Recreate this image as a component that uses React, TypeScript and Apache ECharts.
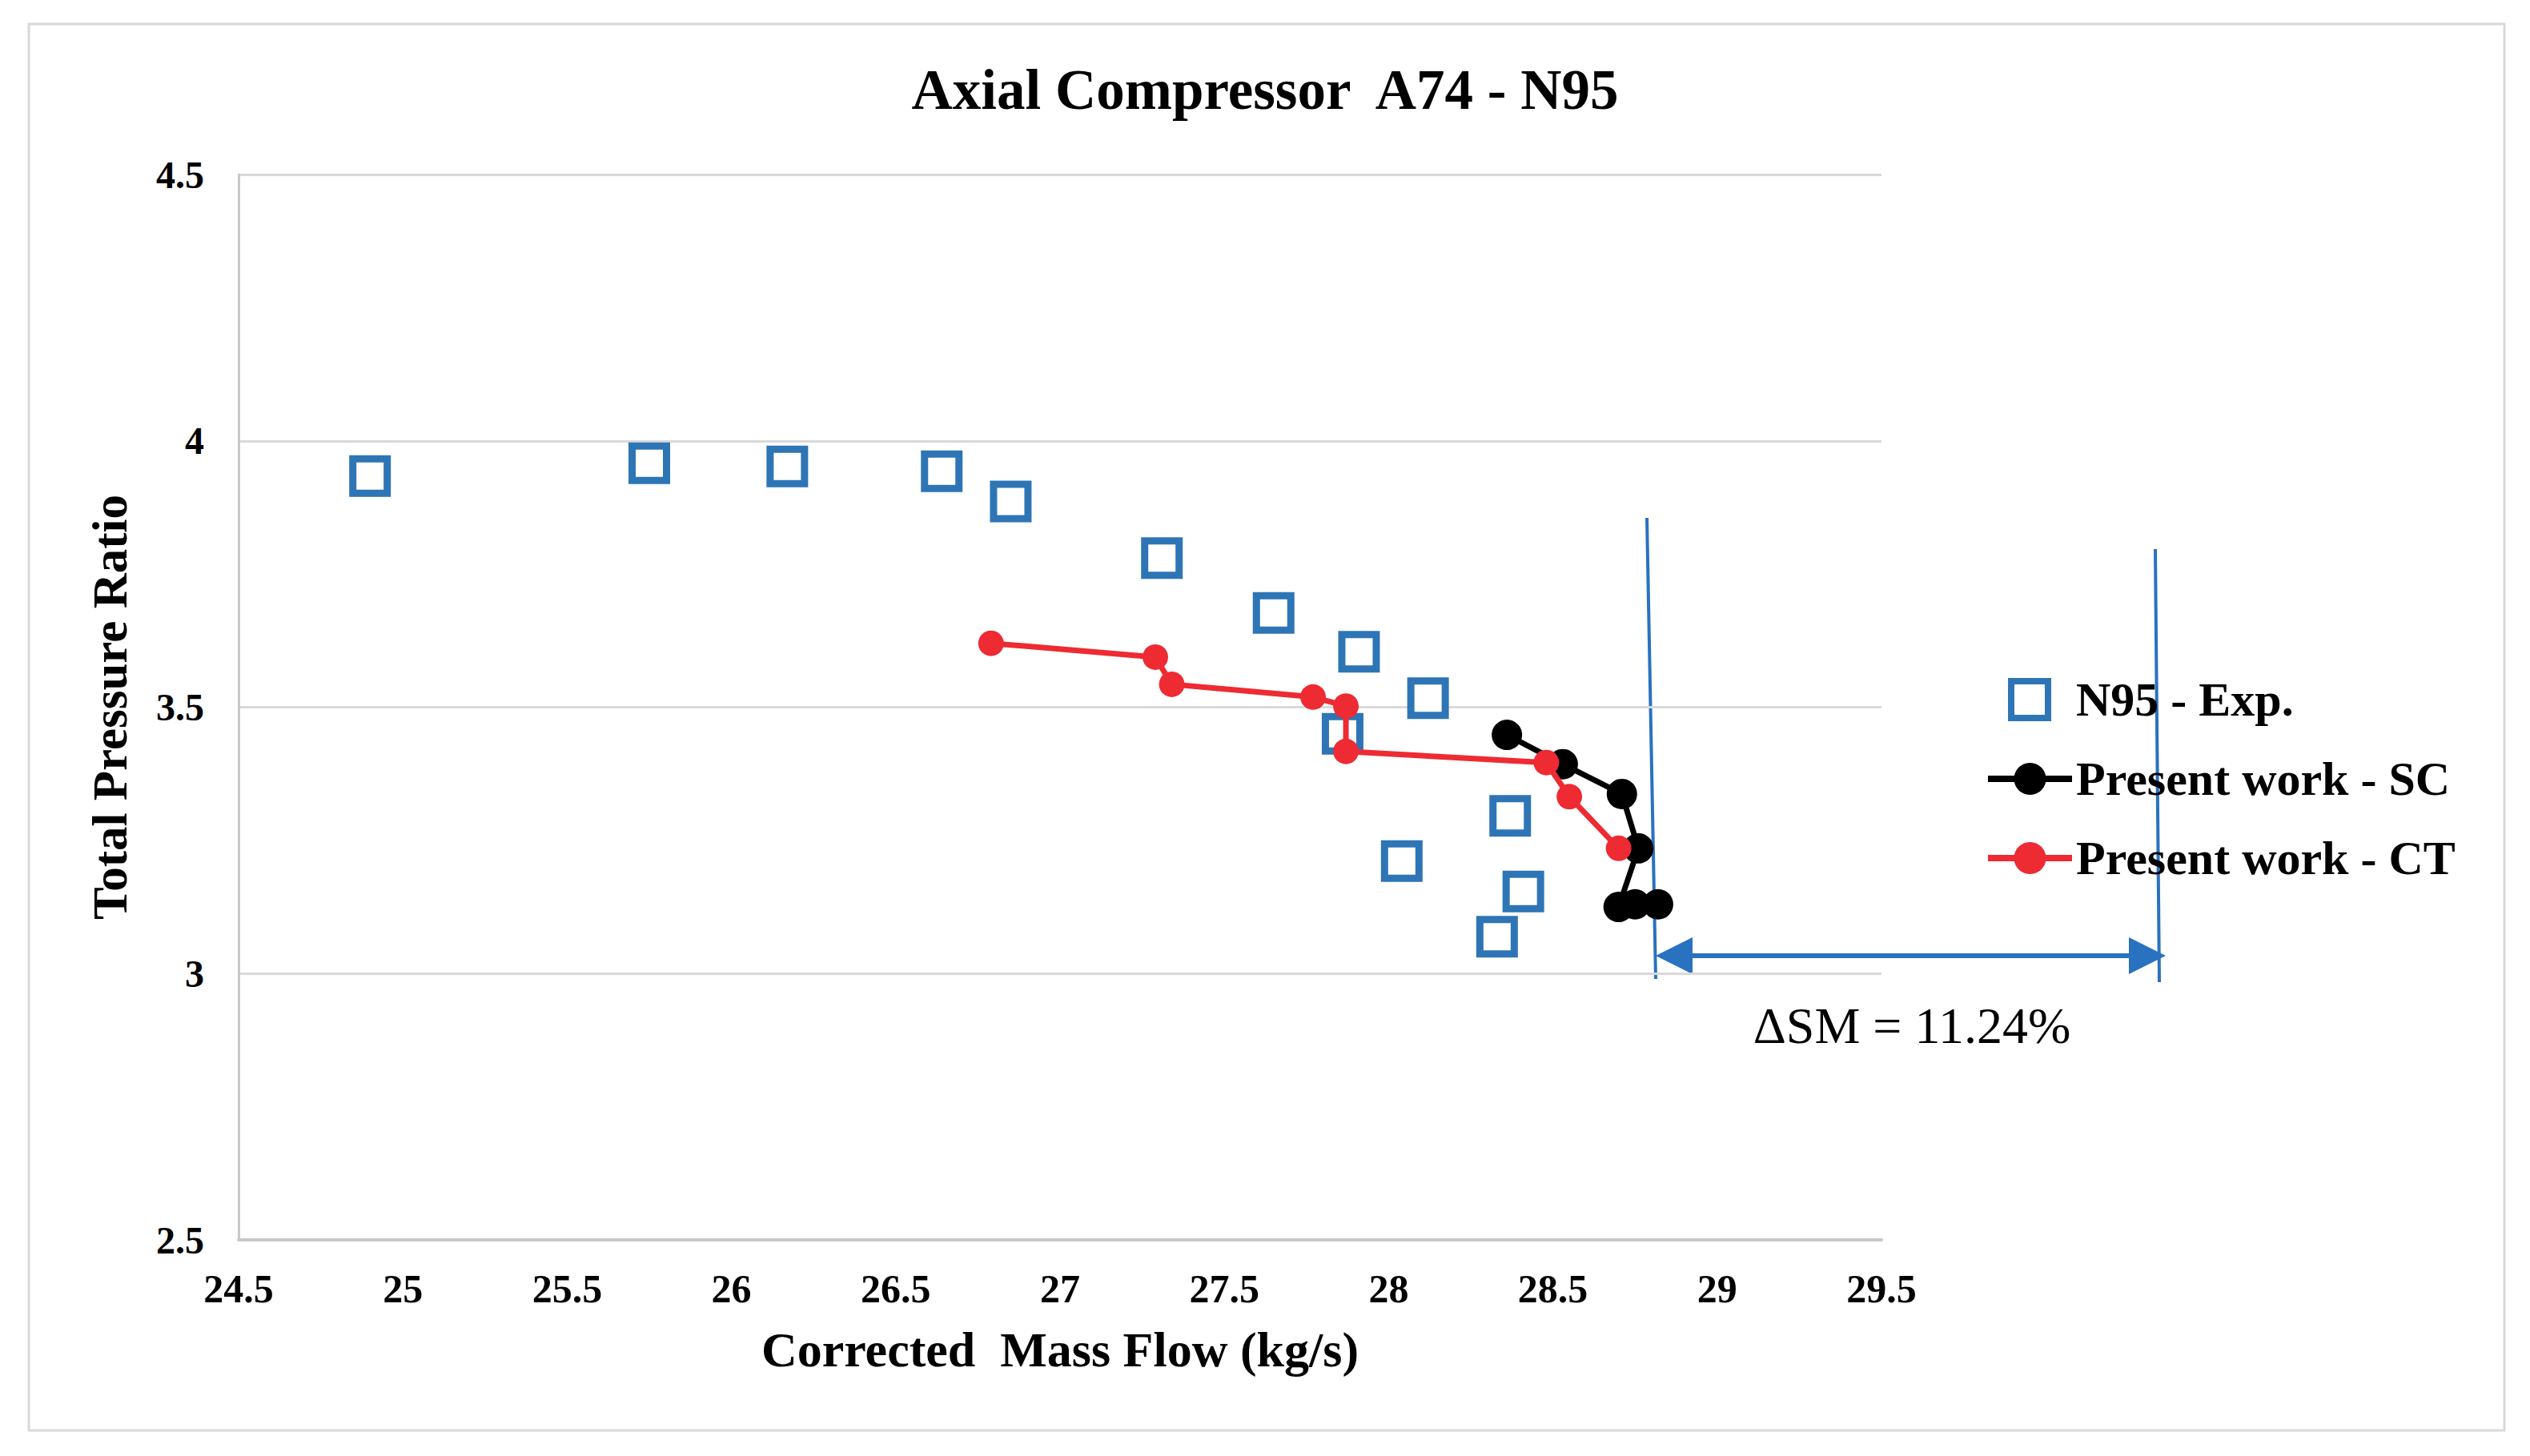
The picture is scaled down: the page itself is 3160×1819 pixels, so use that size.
import React, { useEffect, useRef } from 'react';
import * as echarts from 'echarts';

// N95 experimental points
const expFlow = [24.9, 25.75, 26.17, 26.64, 26.85, 27.31, 27.65, 27.91, 28.12, 27.86, 28.37, 28.04, 28.41, 28.33];
const expPR = [3.934, 3.958, 3.952, 3.943, 3.886, 3.78, 3.677, 3.604, 3.517, 3.45, 3.296, 3.211, 3.154, 3.069];

// Present work - SC
const scFlow = [28.36, 28.53, 28.71, 28.76, 28.7, 28.75, 28.82];
const scPR = [3.448, 3.393, 3.337, 3.235, 3.125, 3.13, 3.13];

// Present work - CT
const ctFlow = [26.79, 27.29, 27.34, 27.77, 27.87, 27.87, 28.48, 28.55, 28.7];
const ctPR = [3.62, 3.594, 3.543, 3.519, 3.502, 3.417, 3.396, 3.332, 3.235];

const seriesNames = ['N95 - Exp.', 'Present work - SC', 'Present work - CT'];
const smLabel = 'ΔSM = 11.24%';

const FONT = '"Liberation Serif", "Times New Roman", serif';
const BLUE = '#2E75B6';
const ARROW = '#2872C0';
const RED = '#EE2A33';

const pairs = (xs: number[], ys: number[]) => xs.map((x, i) => [x, ys[i]]);

const App: React.FC = () => {
  const chartRef = useRef<HTMLDivElement>(null);

  useEffect(() => {
    document.body.style.margin = '0';
    if (!chartRef.current) return;
    const chart = echarts.init(chartRef.current, undefined, { renderer: 'svg' });

    const options: echarts.EChartsOption = {
      animation: false,
      backgroundColor: '#fff',
      textStyle: { fontFamily: FONT },
      title: {
        text: 'Axial Compressor  A74 - N95',
        left: 'center',
        top: 71,
        textStyle: { fontFamily: FONT, fontWeight: 'bold', fontSize: 71, color: '#000' }
      },
      grid: { left: 298, right: 810, top: 218, bottom: 270 },
      xAxis: {
        type: 'value',
        min: 24.5,
        max: 29.5,
        interval: 0.5,
        name: 'Corrected  Mass Flow (kg/s)',
        nameLocation: 'middle',
        nameGap: 106,
        nameTextStyle: { fontFamily: FONT, fontWeight: 'bold', fontSize: 62, color: '#000' },
        axisLine: { show: true, lineStyle: { color: '#C8C8C8', width: 4 } },
        axisTick: { show: false },
        splitLine: { show: false },
        axisLabel: { fontFamily: FONT, fontWeight: 'bold', fontSize: 50, color: '#000', margin: 36 }
      },
      yAxis: {
        type: 'value',
        min: 2.5,
        max: 4.5,
        interval: 0.5,
        name: 'Total Pressure Ratio',
        nameLocation: 'middle',
        nameGap: 130,
        nameTextStyle: { fontFamily: FONT, fontWeight: 'bold', fontSize: 61, color: '#000' },
        axisLine: { show: true, lineStyle: { color: '#C8C8C8', width: 3 } },
        axisTick: { show: false },
        splitLine: { show: true, lineStyle: { color: '#D9D9D9', width: 3 } },
        axisLabel: { fontFamily: FONT, fontWeight: 'bold', fontSize: 48, color: '#000', margin: 43 }
      },
      legend: [
        {
          data: [
            {
              name: seriesNames[0],
              itemStyle: { color: '#fff', borderColor: BLUE, borderWidth: 8 }
            }
          ],
          left: 2503,
          top: 839,
          itemWidth: 46,
          itemHeight: 46,
          itemStyle: { color: '#fff', borderColor: BLUE, borderWidth: 8 },
          textStyle: { fontFamily: FONT, fontWeight: 'bold', fontSize: 60, color: '#000', padding: [0, 0, 0, 30] }
        },
        {
          data: [seriesNames[1], seriesNames[2]],
          orient: 'vertical',
          left: 2474,
          top: 938,
          itemWidth: 105,
          itemHeight: 50,
          itemGap: 39,
          lineStyle: { width: 8 },
          textStyle: { fontFamily: FONT, fontWeight: 'bold', fontSize: 60, color: '#000', lineHeight: 60 }
        }
      ],
      graphic: [
        {
          type: 'rect',
          z: -10,
          shape: { x: 36, y: 30, width: 3092, height: 1757 },
          style: { fill: 'transparent', stroke: '#D9D9D9', lineWidth: 3 }
        },
        {
          type: 'line',
          shape: { x1: 2057, y1: 647, x2: 2068, y2: 1223 },
          style: { stroke: ARROW, lineWidth: 4 }
        },
        {
          type: 'line',
          shape: { x1: 2692, y1: 686, x2: 2697, y2: 1227 },
          style: { stroke: ARROW, lineWidth: 4 }
        },
        {
          type: 'line',
          shape: { x1: 2100, y1: 1194, x2: 2672, y2: 1194 },
          style: { stroke: ARROW, lineWidth: 6 }
        },
        {
          type: 'polygon',
          shape: { points: [[2068, 1194], [2114, 1171], [2114, 1217]] },
          style: { fill: ARROW }
        },
        {
          type: 'polygon',
          shape: { points: [[2705, 1194], [2659, 1171], [2659, 1217]] },
          style: { fill: ARROW }
        },
        {
          type: 'text',
          x: 2388,
          y: 1281,
          style: {
            text: smLabel,
            fontFamily: FONT,
            fontSize: 64,
            fill: '#000',
            align: 'center',
            verticalAlign: 'middle'
          }
        }
      ],
      series: [
        {
          name: seriesNames[0],
          type: 'scatter',
          symbol: 'rect',
          symbolSize: 43,
          itemStyle: { color: '#fff', borderColor: BLUE, borderWidth: 9, opacity: 1 },
          data: pairs(expFlow, expPR),
          z: 2
        },
        {
          name: seriesNames[1],
          type: 'line',
          symbol: 'circle',
          symbolSize: 38,
          itemStyle: { color: '#000' },
          lineStyle: { color: '#000', width: 7 },
          data: pairs(scFlow, scPR),
          z: 3
        },
        {
          name: seriesNames[2],
          type: 'line',
          symbol: 'circle',
          symbolSize: 32,
          itemStyle: { color: RED },
          lineStyle: { color: RED, width: 7 },
          data: pairs(ctFlow, ctPR),
          z: 4
        }
      ]
    };

    chart.setOption(options);

    return () => {
      chart.dispose();
    };
  }, []);

  return <div ref={chartRef} style={{ width: 3160, height: 1819 }} />;
};

export default App;
